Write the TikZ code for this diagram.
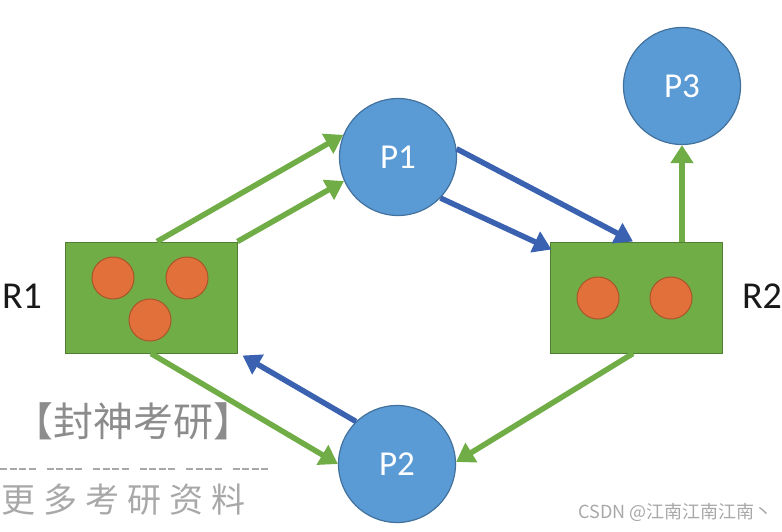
\documentclass[tikz,border=0pt]{standalone}
\usepackage{fontspec}
\setmainfont{Carlito}
\newfontfamily\cjk{Noto Sans CJK SC}
\usetikzlibrary{arrows.meta,calc}
\definecolor{cgreen}{HTML}{70AD47}
\definecolor{cgreenD}{HTML}{507E32}
\definecolor{cblue}{HTML}{5B9BD5}
\definecolor{cblueD}{HTML}{41719C}
\definecolor{carrowblue}{HTML}{3B62B0}
\definecolor{corange}{HTML}{E2703B}
\definecolor{corangeD}{HTML}{A8552A}
\definecolor{wmgray}{HTML}{8C8C8C}
\definecolor{wmlight}{HTML}{A8A8A8}
\begin{document}
\begin{tikzpicture}[x=1pt,y=-1pt,
  proc/.style={circle,fill=cblue,draw=cblueD,line width=1.2pt,minimum size=117pt,inner sep=0pt,font=\fontsize{35}{40}\selectfont,text=white},
  res/.style={rectangle,fill=cgreen,draw=cgreenD,line width=1pt,minimum width=172pt,minimum height=111pt,inner sep=0pt},
  dot/.style={circle,fill=corange,draw=corangeD,line width=1pt,minimum size=42pt,inner sep=0pt},
  garrow/.style={draw=cgreen,line width=5.5pt,-{Triangle[length=18pt,width=22pt]}},
  barrow/.style={draw=carrowblue,line width=5.5pt,-{Triangle[length=18pt,width=22pt]}},
  rlabel/.style={font=\fontsize{38}{44}\selectfont,text=black!90},
]
\useasboundingbox (0,0) rectangle (782,531);

% watermark
\node[font=\cjk\fontsize{40}{44}\selectfont,text=wmgray] (wm1) at (133,421) {【封神考研】};
\coordinate (wmL) at (0,469);
\coordinate (wmR) at (268,469);
\draw[wmlight,line width=1.5pt,dash pattern=on 7pt off 2.5pt on 7pt off 2.5pt on 7pt off 2.5pt on 7pt off 11pt] (wmL) -- (wmR);
\node[anchor=west,font=\cjk\fontsize{34}{40}\selectfont,text=wmlight,inner sep=0pt] (wm2) at (1,500) {更\hspace{8pt}多\hspace{8pt}考\hspace{8pt}研\hspace{8pt}资\hspace{8pt}料};

% resources
\node[res] (R1) at (151,297.5) {};
\node[res] (R2) at (636,297.5) {};
\node[dot] (d1) at (113,278) {};
\node[dot] (d2) at (187,278) {};
\node[dot] (d3) at (150,320) {};
\node[dot] (d4) at (598,298) {};
\node[dot] (d5) at (671,298) {};
\node[rlabel] (L1) at (22,296) {R1};
\node[rlabel] (L2) at (762,296) {R2};

% processes
\node[proc] (P1) at (398,157) {P1};
\node[proc] (P2) at (397,464) {P2};
\node[proc] (P3) at (682,86) {P3};

% connectors
\draw[garrow] ([xshift=6pt]R1.north) -- (P1.158);
\draw[garrow] (R1.north east) -- (P1.204);
\draw[barrow] (P1.8) -- ([xshift=-3pt]R2.north);
\draw[barrow] (P1.-44) -- ([shift={(2pt,-8pt)}]R2.north west);
\draw[garrow] (P3.south |- R2.north) -- (P3.south);
\draw[garrow] ([xshift=-3pt]R2.south) -- (P2.2);
\draw[garrow] (R1.south) -- (P2.180);
\draw[barrow] (P2.134) -- ([shift={(5pt,-2pt)}]R1.south east);

% footer
\node[anchor=base east,font=\cjk\fontsize{18}{20}\selectfont,text=wmlight,inner sep=0pt] (csdn) at (773,518) {CSDN @江南江南江南丶};
\end{tikzpicture}
\end{document}
